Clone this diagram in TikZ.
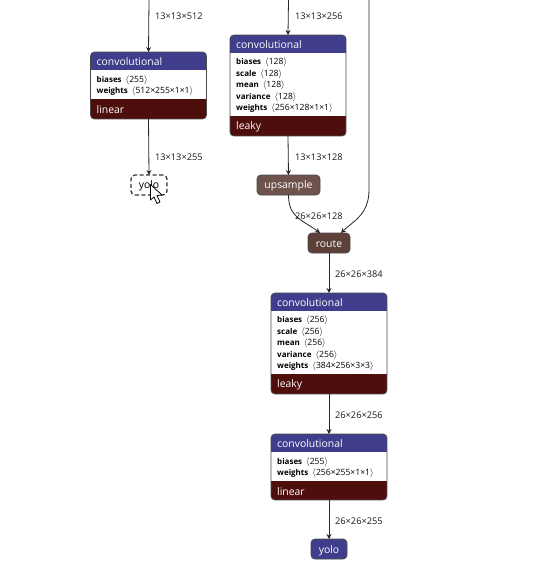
\documentclass[tikz,border=0pt]{standalone}
\usepackage{fontspec}
\setmainfont{Open Sans}
\usetikzlibrary{arrows.meta}
\definecolor{headblue}{HTML}{3F3D8C}
\definecolor{actred}{HTML}{4E0F0C}
\definecolor{routebrown}{HTML}{5D4037}
\definecolor{framegray}{HTML}{4A4A4A}
\tikzset{
	flow/.style={draw=black!85,line width=0.8pt,-{Stealth[length=5pt,width=5pt]}},
	dimlabel/.style={right,font=\fontsize{9.2}{10}\selectfont,text=black!90,inner sep=0pt},
	headtext/.style={right,font=\fontsize{10.4}{12}\selectfont,text=white,inner sep=0pt},
	attrtext/.style={right,align=left,font=\fontsize{8}{11.5}\selectfont,inner sep=0pt},
	framebox/.style={draw=framegray,line width=0.8pt,rounded corners=4pt,inner sep=0pt,outer sep=0pt},
	pill/.style={framebox,text=white,font=\fontsize{10.4}{12}\selectfont,minimum height=20pt}
}
% name, left, top, end of head, end of attrs, bottom, title, attrs, activation
\newcommand{\layerbox}[9]{
	\begin{scope}
		\clip[rounded corners=4pt] (#2,#3) rectangle ({#2+116},#6);
		\fill[headblue] (#2,#3) rectangle ({#2+116},#4);
		\fill[white] (#2,#4) rectangle ({#2+116},#5);
		\fill[actred] (#2,#5) rectangle ({#2+116},#6);
	\end{scope}
	\node[framebox,minimum width=116pt,minimum height={(#6-#3)*1pt}] (#1) at ({#2+58},{(#3+#6)/2}) {};
	\node[headtext] (#1head) at ({#2+6},{(#3+#4)/2+0.8}) {#7};
	\node[attrtext] (#1attr) at ({#2+6},{(#4+#5)/2+1.2}) {#8};
	\node[headtext] (#1act) at ({#2+6},{(#5+#6)/2+1}) {#9};
}
\newcommand{\attr}[2]{\textbf{#1}\hspace{4pt}{\fontsize{8.6}{11.5}\selectfont$\langle$#2$\rangle$}}
\begin{document}
\begin{tikzpicture}[x=1pt,y=-1pt]
	\useasboundingbox (0,0) rectangle (536,574);

	\layerbox{convA}{90.5}{52}{70}{99}{119}{convolutional}{\attr{biases}{255}\\\attr{weights}{512×255×1×1}}{linear}
	\layerbox{convB}{230}{35}{53}{116}{136}{convolutional}{\attr{biases}{128}\\\attr{scale}{128}\\\attr{mean}{128}\\\attr{variance}{128}\\\attr{weights}{256×128×1×1}}{leaky}
	\layerbox{convC}{271}{293}{311}{374}{394}{convolutional}{\attr{biases}{256}\\\attr{scale}{256}\\\attr{mean}{256}\\\attr{variance}{256}\\\attr{weights}{384×256×3×3}}{leaky}
	\layerbox{convD}{271}{434}{452}{481}{500}{convolutional}{\attr{biases}{255}\\\attr{weights}{256×255×1×1}}{linear}

	\node[pill,fill=routebrown!90,minimum width=63pt,text depth=2pt,text height=9.5pt] (upsample) at (288.5,185) {upsample};
	\node[pill,fill=routebrown,minimum width=42pt,text depth=1.5pt,text height=9.5pt] (route) at (329,243) {route};
	\node[pill,fill=headblue,minimum width=36pt,text depth=1.5pt,text height=10pt] (yoloB) at (329,549) {yolo};
	\node[framebox,draw=black!80,line width=1.3pt,dash pattern=on 4pt off 2.5pt,minimum width=36pt,minimum height=20pt,text depth=2pt,text height=9.5pt,font=\fontsize{10.4}{12}\selectfont] (yoloA) at (149,185) {yolo};

	\coordinate (inA) at (149,0);
	\coordinate (inB) at (288.5,0);
	\coordinate (inR) at (369,0);

	\draw[flow] (inA)--(convA.north);
	\draw[flow] (convA.south)--(yoloA.north);
	\draw[flow] (inB)--(convB.north);
	\draw[flow] (convB.south)--(upsample.north);
	\draw[flow] (upsample.south) .. controls (288.5,218) and (303,220) .. ([xshift=-9pt]route.north);
	\draw[flow] (inR)--(369,190) .. controls (369,215) and (352,222) .. ([xshift=12pt]route.north);
	\draw[flow] (route.south)--(convC.north);
	\draw[flow] (convC.south)--(convD.north);
	\draw[flow] (convD.south)--(yoloB.north);

	\node[dimlabel] (dimA) at (155,16) {13×13×512};
	\node[dimlabel] (dimB) at (155,157) {13×13×255};
	\node[dimlabel] (dimC) at (295,16) {13×13×256};
	\node[dimlabel] (dimD) at (295,157) {13×13×128};
	\node[dimlabel] (dimE) at (295,216) {26×26×128};
	\node[dimlabel] (dimF) at (335,274) {26×26×384};
	\node[dimlabel] (dimG) at (335,415) {26×26×256};
	\node[dimlabel] (dimH) at (335,521) {26×26×255};

	% mouse pointer
	\draw[fill=white,line width=0.8pt,line join=round] (150.5,184.5)--(150.5,200)--(154,197)--(157,203.5)--(160,202)--(157,195.5)--(162,195)--cycle;
\end{tikzpicture}
\end{document}
